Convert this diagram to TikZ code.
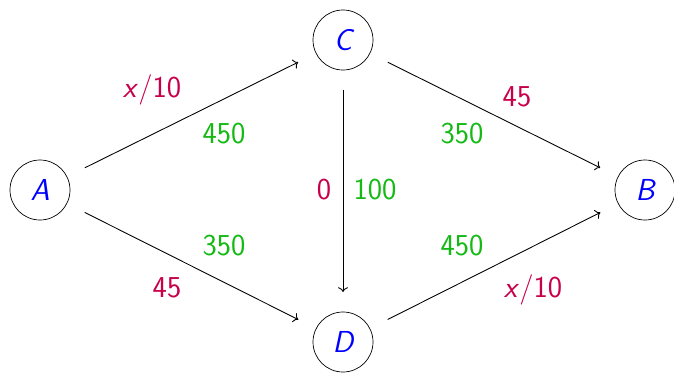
\documentclass[tikz,border=0pt]{standalone}
\usepackage{xcolor}
\usepackage{tikz}
\usetikzlibrary{positioning, arrows.meta}
\definecolor{cPurple}{RGB}{200,0,75}
\definecolor{cGreen}{RGB}{20,185,20}
\definecolor{cBlue}{RGB}{0,0,255}
\tikzset{
  town/.style={draw, circle, minimum size=1.2cm, inner sep=0pt, outer sep=0.4cm, font=\LARGE\sffamily\itshape, text=cBlue},
  road/.style={->, line width=0.5pt},
  cost/.style={font=\LARGE\sffamily, text=cPurple},
  flow/.style={font=\LARGE\sffamily, text=cGreen}
}
\begin{document}
\begin{tikzpicture}
      \useasboundingbox (0,0) rectangle (13.48,-7.44);
      % towns
      \node[town] (A) at (0.80,-3.80) {A};
      \node[town] (C) at (6.86,-0.80) {C};
      \node[town] (D) at (6.86,-6.84) {D};
      \node[town] (B) at (12.90,-3.80) {B};
      % roads
      \draw[road] (A) -- (C);
      \draw[road] (A) -- (D);
      \draw[road] (C) -- (D);
      \draw[road] (C) -- (B);
      \draw[road] (D) -- (B);
      % travel times
      \node[cost] (cAC) at (3.04,-1.80) {\textit{x}/10};
      \node[cost] (cCB) at (10.34,-1.94) {45};
      \node[cost] (cCD) at (6.48,-3.80) {0};
      \node[cost] (cAD) at (3.34,-5.76) {45};
      \node[cost] (cDB) at (10.66,-5.80) {\textit{x}/10};
      % drivers
      \node[flow] (fAC) at (4.48,-2.68) {450};
      \node[flow] (fCB) at (9.24,-2.68) {350};
      \node[flow] (fCD) at (7.50,-3.80) {100};
      \node[flow] (fAD) at (4.48,-4.92) {350};
      \node[flow] (fDB) at (9.24,-4.92) {450};
\end{tikzpicture}
\end{document}
